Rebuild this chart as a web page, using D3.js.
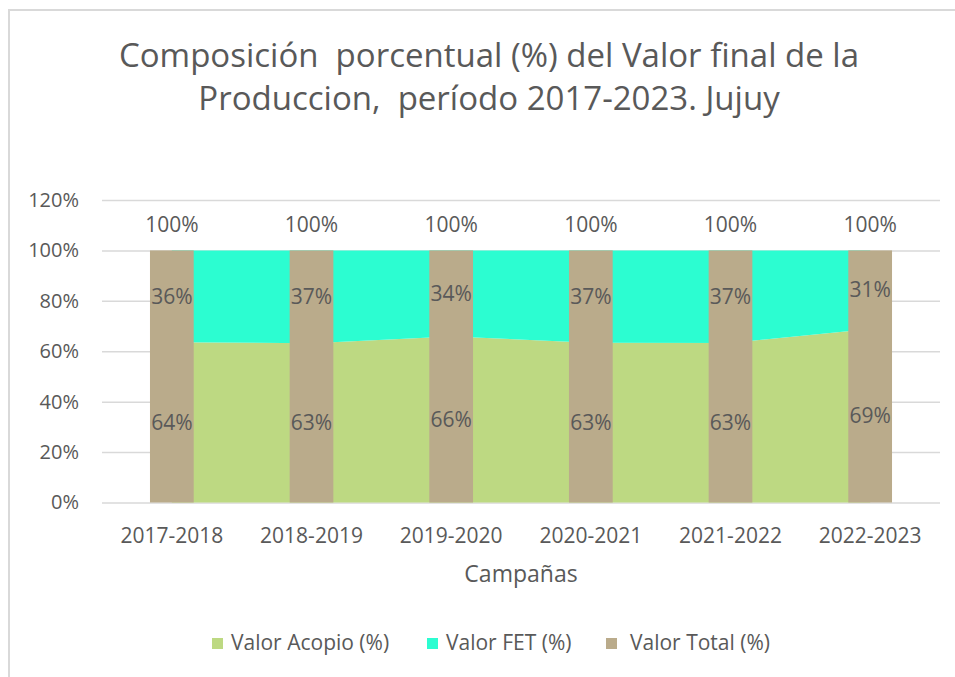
<!DOCTYPE html>
<html>
<head>
  <meta charset="utf-8">
  <style type="text/css">
    body { margin: 0; background: #fff; }
    text { font-family: "Open Sans", sans-serif; fill: #595959; white-space: pre; }
  </style>
  <script src="https://d3js.org/d3.v7.min.js"></script>
</head>
<body>
  <div id="chart"></div>
  <script type="text/javascript">
    // data
    var campanas = ["2017-2018", "2018-2019", "2019-2020", "2020-2021", "2021-2022", "2022-2023"];
    var valorAcopio = [0.636, 0.632, 0.659, 0.634, 0.633, 0.688];
    var valorFET = [0.364, 0.368, 0.341, 0.366, 0.367, 0.312];
    var valorTotal = [1, 1, 1, 1, 1, 1];
    var yTicks = [0, 0.2, 0.4, 0.6, 0.8, 1, 1.2];
    var seriesNames = ["Valor Acopio (%)", "Valor FET (%)", "Valor Total (%)"];
    var colors = ["#bdd982", "#2cfdd1", "#baab8b"];

    var width = 955, height = 677;
    var plotL = 102, plotR = 940, plotT = 200, plotB = 502.5;

    var svg = d3.select("#chart").append("svg")
        .attr("width", width)
        .attr("height", height);

    // chart border
    svg.append("rect")
        .attr("x", 9).attr("y", 10)
        .attr("width", 980).attr("height", 700)
        .attr("fill", "none")
        .attr("stroke", "#d9d9d9")
        .attr("stroke-width", 2);

    // title
    var title = svg.append("text")
        .attr("text-anchor", "middle")
        .style("font-size", "33px");
    title.append("tspan").attr("x", 489).attr("y", 67)
        .text("Composición  porcentual (%) del Valor final de la");
    title.append("tspan").attr("x", 489).attr("y", 110)
        .text("Produccion,  período 2017-2023. Jujuy");

    var x = d3.scaleBand().domain(campanas).range([plotL, plotR]).padding(0);
    var y = d3.scaleLinear().domain([0, 1.2]).range([plotB, plotT]);
    var cx = function(c) { return x(c) + x.bandwidth() / 2; };
    var barW = x.bandwidth() * 0.313;

    // gridlines + y labels
    var yAxis = svg.append("g")
        .attr("transform", "translate(" + plotL + ",0)")
        .call(d3.axisLeft(y).tickValues(yTicks)
          .tickSizeInner(-(plotR - plotL)).tickSizeOuter(0)
          .tickPadding(23).tickFormat(d3.format(".0%")));
    yAxis.select(".domain").remove();
    yAxis.selectAll("line").attr("stroke", "#d9d9d9").attr("stroke-width", 1.5);
    yAxis.selectAll("text").style("font-size", "20px").attr("fill", "#595959");

    var rows = campanas.map(function(c, i) {
      return { c: c, a: valorAcopio[i], f: valorFET[i], t: valorTotal[i] };
    });

    // stacked areas
    var areaA = d3.area()
        .x(function(d) { return cx(d.c); })
        .y0(function(d) { return y(0); })
        .y1(function(d) { return y(d.a); });
    var areaF = d3.area()
        .x(function(d) { return cx(d.c); })
        .y0(function(d) { return y(d.a); })
        .y1(function(d) { return y(d.a + d.f); });

    svg.append("path").datum(rows).attr("d", areaA).attr("fill", colors[0]);
    svg.append("path").datum(rows).attr("d", areaF).attr("fill", colors[1]);

    // total bars
    svg.selectAll(".bar").data(rows).enter().append("rect")
        .attr("class", "bar")
        .attr("x", function(d) { return cx(d.c) - barW / 2; })
        .attr("y", function(d) { return y(d.t); })
        .attr("width", barW)
        .attr("height", function(d) { return y(0) - y(d.t); })
        .attr("fill", colors[2]);

    var pct = d3.format(".0%");

    // data labels
    var lab = svg.append("g").style("font-size", "21px").attr("text-anchor", "middle");
    lab.selectAll(".la").data(rows).enter().append("text")
        .attr("x", function(d) { return cx(d.c); })
        .attr("y", function(d) { return y(d.a / 2); })
        .attr("dy", "0.35em")
        .text(function(d) { return pct(d.a); });
    lab.selectAll(".lf").data(rows).enter().append("text")
        .attr("x", function(d) { return cx(d.c); })
        .attr("y", function(d) { return y(d.a + d.f / 2); })
        .attr("dy", "0.35em")
        .text(function(d) { return pct(d.f); });
    lab.selectAll(".lt").data(rows).enter().append("text")
        .attr("x", function(d) { return cx(d.c); })
        .attr("y", function(d) { return y(d.t) - 18; })
        .text(function(d) { return pct(d.t); });

    // x axis
    var xAxis = svg.append("g")
        .attr("transform", "translate(0," + plotB + ")")
        .call(d3.axisBottom(x).tickSize(0).tickPadding(0));
    xAxis.select(".domain").remove();
    xAxis.selectAll("text")
        .attr("y", 40).attr("dy", null)
        .style("font-size", "21px").attr("fill", "#595959");

    svg.append("text")
        .attr("x", 521).attr("y", 582)
        .attr("text-anchor", "middle")
        .style("font-size", "23px")
        .text("Campañas");

    // legend
    var legX = [212, 427, 606];
    var legTx = [231, 446, 630];
    var leg = svg.append("g");
    seriesNames.forEach(function(name, i) {
      leg.append("rect")
          .attr("x", legX[i]).attr("y", 638)
          .attr("width", 11).attr("height", 11)
          .attr("fill", colors[i]);
      leg.append("text")
          .attr("x", legTx[i]).attr("y", 650)
          .style("font-size", "21px")
          .text(name);
    });
  </script>
</body>
</html>
